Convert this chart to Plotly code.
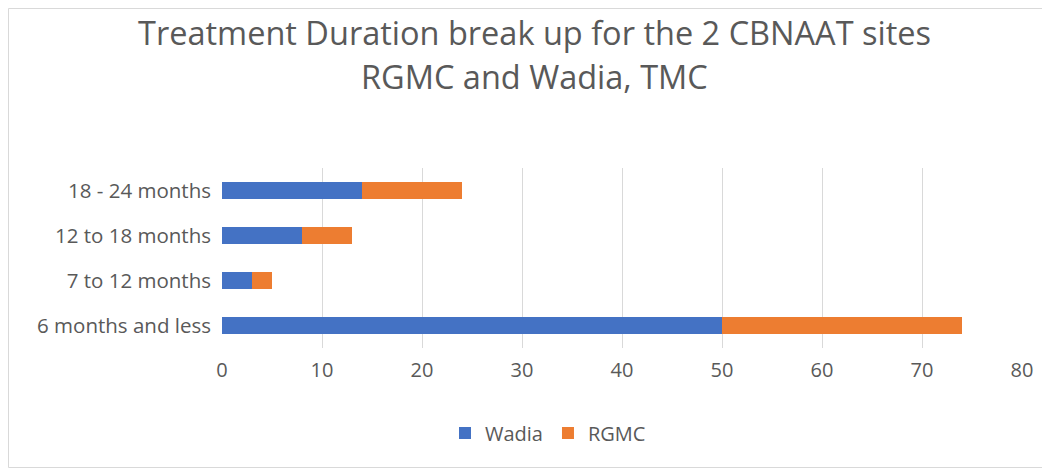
import plotly.graph_objects as go

categories = ["6 months and less", "7 to 12 months", "12 to 18 months", "18 - 24 months"]
wadia = [50, 3, 8, 14]
rgmc = [24, 2, 5, 10]
x_ticks = [0, 10, 20, 30, 40, 50, 60, 70, 80]
title_lines = ["Treatment Duration break up for the 2 CBNAAT sites", "RGMC and Wadia, TMC"]

# page body adds an 8px offset, so the figure is sized to fill the rest
W, H = 1042, 460
L, R, T, B = 214, 28, 160, 120
pw, ph = W - L - R, H - T - B

def px(x):
    return (x - L) / pw

def py(y):
    return (T + ph - y) / ph

fig = go.Figure()
fig.add_trace(go.Bar(y=categories, x=wadia, name="Wadia", orientation="h",
                     marker=dict(color="#4472C4", line=dict(width=0))))
fig.add_trace(go.Bar(y=categories, x=rgmc, name="RGMC", orientation="h",
                     marker=dict(color="#ED7D31", line=dict(width=0))))

font_fam = "Open Sans, Noto Sans, sans-serif"
grey = "#595959"
annotations = []
for txt, yc in zip(title_lines, [24, 68]):
    annotations.append(dict(text=txt, xref="paper", yref="paper", x=px(526), y=py(yc),
                            xanchor="center", yanchor="middle", showarrow=False,
                            font=dict(size=32.5, color=grey, family=font_fam)))

fig.update_layout(
    barmode="stack",
    bargap=0.62,
    width=W, height=H,
    margin=dict(l=L, r=R, t=T, b=B, autoexpand=False),
    paper_bgcolor="white", plot_bgcolor="white",
    font=dict(family=font_fam, color=grey, size=20),
    xaxis=dict(range=[0, 80], tickvals=x_ticks, showgrid=True, gridcolor="#D9D9D9",
               gridwidth=1, zeroline=False, showline=False, ticks="",
               ticklabelstandoff=8,
               tickfont=dict(size=20, color=grey)),
    yaxis=dict(categoryorder="array", categoryarray=categories, showgrid=False,
               showline=False, ticks="", ticklabelstandoff=10,
               tickfont=dict(size=20.5, color=grey)),
    legend=dict(orientation="h", x=px(540), xanchor="center",
                y=py(425), yanchor="middle",
                font=dict(size=20, color=grey), traceorder="normal",
                itemwidth=30),
    annotations=annotations,
    shapes=[dict(type="rect", xref="paper", yref="paper",
                 x0=px(0.5), x1=px(W - 0.5),
                 y0=py(H - 0.5), y1=py(0.5),
                 line=dict(color="#D9D9D9", width=1), fillcolor="rgba(0,0,0,0)",
                 layer="below")],
)

fig.write_html("out.html")
